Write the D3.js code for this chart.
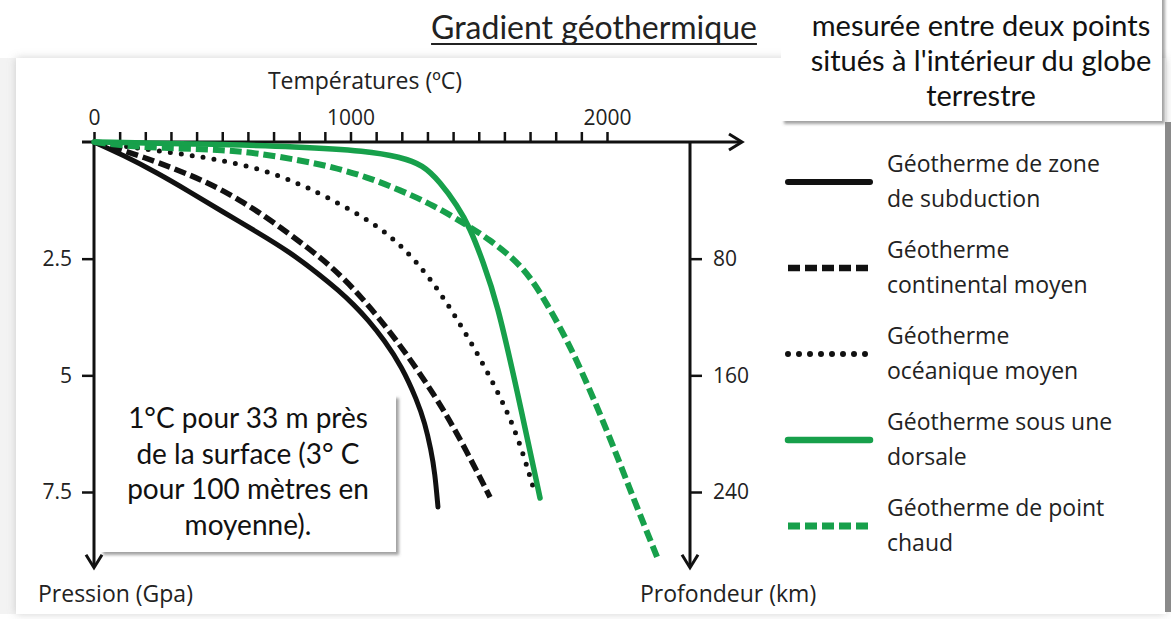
<!DOCTYPE html>
<html><head><meta charset="utf-8">
<script src="https://cdn.jsdelivr.net/npm/d3@7"></script>
<style>body{margin:0;background:#fff}svg{display:block}</style>
</head><body>
<svg id="c" width="1171" height="619"></svg>
<script>
// ---------- DATA ----------
const tempTicks = d3.range(0, 2001, 100);
const tempLabels = [0, 1000, 2000];
const pressureTicks = [2.5, 5, 7.5];
const depthTicks = [80, 160, 240];

// [temperature °C, pressure GPa]
const subduction = [[0,0],[113,0.28],[246,0.66],[374,1.07],[503,1.50],[636,1.93],[764,2.36],[881,2.85],[951,3.17],[1014,3.49],[1068,3.81],[1131,4.24],[1201,4.82],[1259,5.53],[1290,6.02],[1314,6.60],[1329,7.09],[1341,7.82]];
const continental = [[0,0],[152,0.24],[308,0.56],[441,0.86],[569,1.24],[698,1.71],[830,2.25],[932,2.70],[1037,3.28],[1181,4.24],[1333,5.46],[1431,6.39],[1544,7.61]];
const oceanic = [[0,0],[152,0.12],[374,0.28],[503,0.40],[636,0.56],[764,0.81],[893,1.13],[1064,1.65],[1166,2.06],[1259,2.57],[1349,3.21],[1466,4.24],[1571,5.31],[1649,6.24],[1712,7.39]];
const ridge = [[0,0],[413,0.04],[803,0.10],[1064,0.19],[1193,0.32],[1283,0.49],[1349,0.86],[1415,1.35],[1466,1.84],[1517,2.57],[1571,3.43],[1649,5.31],[1739,7.63]];
const hotspot = [[0,0],[152,0.10],[335,0.14],[503,0.17],[636,0.24],[803,0.39],[932,0.54],[1064,0.75],[1193,1.03],[1322,1.35],[1454,1.78],[1544,2.10],[1634,2.49],[1700,2.89],[1758,3.39],[1867,4.46],[2000,6.17],[2101,7.61],[2195,8.89]];

const legendLabels = [
  ["Géotherme de zone", "de subduction"],
  ["Géotherme", "continental moyen"],
  ["Géotherme", "océanique moyen"],
  ["Géotherme sous une", "dorsale"],
  ["Géotherme de point", "chaud"]
];
const titleText = "Gradient géothermique";
const noteTop = ["mesurée entre deux points", "situés à l'intérieur du globe", "terrestre"];
const noteBox = ["1°C pour 33 m près", "de la surface (3° C", "pour 100 mètres en", "moyenne)."];

// ---------- STYLE ----------
const GREEN = "#17a04b";
const styles = [
  {data: subduction, color: "#111", width: 5, dash: null, cap: "round"},
  {data: continental, color: "#111", width: 5.5, dash: "12,5", cap: "butt"},
  {data: oceanic, color: "#111", width: 5, dash: "0,11", cap: "round"},
  {data: ridge, color: GREEN, width: 5.5, dash: null, cap: "round"},
  {data: hotspot, color: GREEN, width: 6, dash: "12,5", cap: "butt"}
];

const svg = d3.select("#c");
const defs = svg.append("defs");
const f1 = defs.append("filter").attr("id","sh").attr("x","-5%").attr("y","-5%").attr("width","110%").attr("height","110%");
f1.append("feDropShadow").attr("dx",0).attr("dy",0).attr("stdDeviation",4).attr("flood-color","#999").attr("flood-opacity",0.45);
const f2 = defs.append("filter").attr("id","sh2").attr("x","-5%").attr("y","-5%").attr("width","115%").attr("height","120%");
f2.append("feDropShadow").attr("dx",3).attr("dy",3).attr("stdDeviation",1.5).attr("flood-color","#666").attr("flood-opacity",0.6);

svg.append("rect").attr("width",1171).attr("height",619).attr("fill","#fff");
svg.append("rect").attr("x",0).attr("y",58).attr("width",16).attr("height",556).attr("fill","#f3f3f3");
svg.append("rect").attr("x",16).attr("y",58).attr("width",1150).attr("height",556).attr("fill","#fff").attr("filter","url(#sh)");
svg.append("rect").attr("x",1165).attr("y",122).attr("width",6).attr("height",490).attr("fill","#8a8a8a");

// Top-right note box
svg.append("rect").attr("x",781).attr("y",-10).attr("width",381).attr("height",131).attr("fill","#fff").attr("filter","url(#sh2)");
svg.append("g").selectAll("text").data(noteTop).join("text")
  .attr("x",981).attr("y",(d,i)=>36 + i*35)
  .attr("text-anchor","middle").attr("font-family","Lato, sans-serif").attr("font-size",29).attr("fill","#111")
  .text(d=>d);

// Title
const title = svg.append("text").attr("x",594).attr("y",39).attr("text-anchor","middle")
  .attr("font-family","Lato, sans-serif").attr("font-size",32).attr("fill","#222").text(titleText);
const tb = title.node().getBBox();
svg.append("line").attr("x1",tb.x).attr("x2",tb.x+tb.width).attr("y1",44).attr("y2",44).attr("stroke","#222").attr("stroke-width",1.8);

// ---------- SCALES ----------
const x = d3.scaleLinear().domain([0,2000]).range([94,607]);
const y = d3.scaleLinear().domain([0,7.5]).range([142,492]);
const yDepth = d3.scaleLinear().domain([0,240]).range([142,492]);
const yBottom = y(9.1);
const FONT = "'Open Sans', sans-serif";

// axes lines with arrows
const axG = svg.append("g").attr("stroke","#111").attr("stroke-width",3).attr("fill","none").attr("stroke-linecap","butt");
axG.append("line").attr("x1",82).attr("x2",741).attr("y1",y(0)).attr("y2",y(0));
axG.append("polyline").attr("points",`729,${y(0)-8} 742,${y(0)} 729,${y(0)+8}`).attr("stroke-linejoin","miter");
axG.append("line").attr("x1",x(0)).attr("x2",x(0)).attr("y1",y(0)).attr("y2",yBottom);
axG.append("polyline").attr("points",`${x(0)-8},${yBottom-12} ${x(0)},${yBottom+1} ${x(0)+8},${yBottom-12}`);
axG.append("line").attr("x1",690).attr("x2",690).attr("y1",y(0)).attr("y2",yBottom);
axG.append("polyline").attr("points",`682,${yBottom-12} 690,${yBottom+1} 698,${yBottom-12}`);

function styleAxis(g){
  g.select(".domain").remove();
  g.selectAll(".tick line").attr("stroke","#111").attr("stroke-width",2.5);
  g.selectAll(".tick text").attr("fill","#222").attr("font-family",FONT).attr("font-size",21);
}
svg.append("g").attr("transform",`translate(0,${y(0)})`)
  .call(d3.axisTop(x).tickValues(tempTicks).tickSize(10).tickPadding(7).tickFormat(d=>tempLabels.includes(d)?d:""))
  .call(styleAxis);
svg.append("g").attr("transform",`translate(${x(0)},0)`)
  .call(d3.axisLeft(y).tickValues(pressureTicks).tickSize(12).tickPadding(10).tickFormat(d=>d))
  .call(styleAxis);
svg.append("g").attr("transform",`translate(690,0)`)
  .call(d3.axisRight(yDepth).tickValues(depthTicks).tickSize(12).tickPadding(11).tickFormat(d=>d))
  .call(styleAxis);

// axis titles
svg.append("text").attr("x",365).attr("y",89).attr("text-anchor","middle").attr("font-family",FONT).attr("font-size",23).attr("fill","#222").text("Températures (ºC)");
svg.append("text").attr("x",38).attr("y",602).attr("font-family",FONT).attr("font-size",23).attr("fill","#222").text("Pression (Gpa)");
svg.append("text").attr("x",640).attr("y",602).attr("font-family",FONT).attr("font-size",23).attr("fill","#222").text("Profondeur (km)");

// ---------- CURVES ----------
const line = d3.line().x(d=>x(d[0])).y(d=>y(d[1])).curve(d3.curveBasis);
svg.append("g").selectAll("path").data(styles).join("path")
  .attr("d",d=>line(d.data)).attr("fill","none")
  .attr("stroke",d=>d.color).attr("stroke-width",d=>d.width)
  .attr("stroke-dasharray",d=>d.dash).attr("stroke-linecap",d=>d.cap).attr("stroke-linejoin","round");

// ---------- NOTE BOX ----------
svg.append("rect").attr("x",100).attr("y",395).attr("width",296).attr("height",157).attr("fill","#fff").attr("filter","url(#sh2)");
svg.append("g").selectAll("text").data(noteBox).join("text")
  .attr("x",248).attr("y",(d,i)=>428 + i*35.5).attr("text-anchor","middle")
  .attr("font-family","Lato, sans-serif").attr("font-size",28).attr("fill","#111").text(d=>d);

// ---------- LEGEND ----------
const lg = svg.append("g").selectAll("g").data(styles).join("g")
  .attr("transform",(d,i)=>`translate(0,${182 + i*86})`);
lg.append("line").attr("x1",788).attr("x2",870).attr("y1",0).attr("y2",0)
  .attr("stroke",d=>d.color).attr("stroke-width",d=>d.width+1)
  .attr("stroke-dasharray",d=>d.dash).attr("stroke-linecap",d=>d.cap);
lg.each(function(d,i){
  d3.select(this).selectAll("text").data(legendLabels[i]).join("text")
    .attr("x",887).attr("y",(t,j)=>-10 + j*35)
    .attr("font-family",FONT).attr("font-size",23).attr("fill","#222").text(t=>t);
});
</script>
</body></html>
